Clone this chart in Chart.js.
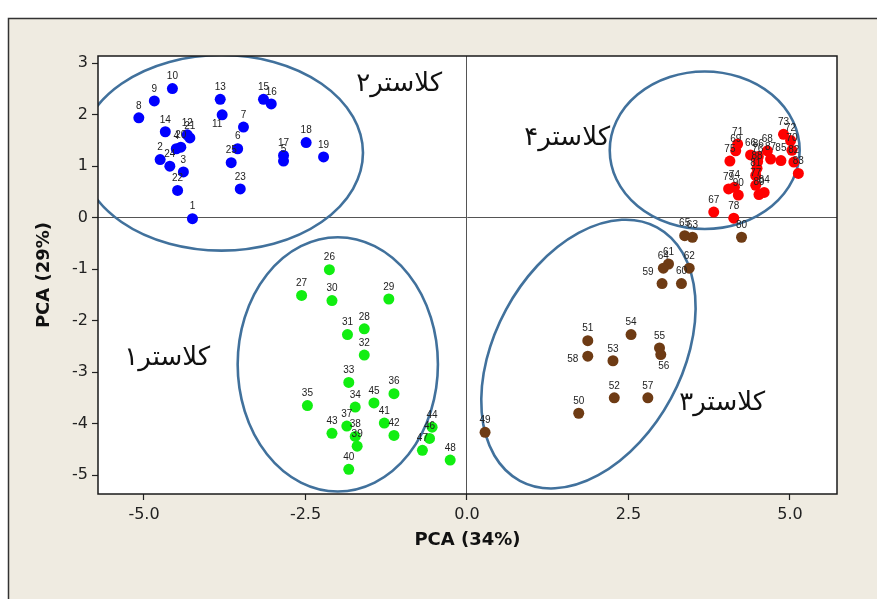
<!DOCTYPE html>
<html>
<head>
<meta charset="utf-8">
<script src="https://cdn.jsdelivr.net/npm/chart.js@4.4.1/dist/chart.umd.min.js"></script>
<style>
  html, body { margin: 0; padding: 0; background: #fff; }
  canvas { display: block; }
</style>
</head>
<body>
<canvas id="chart" width="877" height="599"></canvas>
<script>
// tick values
const xTicks = [-5, -2.5, 0, 2.5, 5];
const yTicks = [3, 2, 1, 0, -1, -2, -3, -4, -5];

// cluster 2 (blue)
const blueIds = [1, 2, 3, 4, 5, 6, 7, 8, 9, 10, 11, 12, 13, 14, 15, 16, 17, 18, 19, 20, 21, 22, 23, 24, 25];
const blueX = [-4.25, -4.75, -4.39, -4.50, -2.84, -3.55, -3.46, -5.08, -4.84, -4.56, -3.79, -4.33, -3.82, -4.67, -3.15, -3.03, -2.84, -2.49, -2.22, -4.43, -4.29, -4.48, -3.51, -4.60, -3.65];
const blueY = [-0.02, 1.13, 0.89, 1.34, 1.10, 1.34, 1.76, 1.94, 2.27, 2.51, 2.00, 1.61, 2.30, 1.67, 2.30, 2.21, 1.21, 1.46, 1.18, 1.37, 1.55, 0.53, 0.56, 1.00, 1.07];

// cluster 1 (green)
const greenIds = [26, 27, 28, 29, 30, 31, 32, 33, 34, 35, 36, 37, 38, 39, 40, 41, 42, 43, 44, 45, 46, 47, 48];
const greenX = [-2.13, -2.56, -1.59, -1.21, -2.09, -1.85, -1.59, -1.83, -1.73, -2.47, -1.13, -1.86, -1.73, -1.70, -1.83, -1.28, -1.13, -2.09, -0.54, -1.44, -0.58, -0.69, -0.26];
const greenY = [-1.01, -1.51, -2.16, -1.58, -1.61, -2.27, -2.67, -3.20, -3.68, -3.65, -3.42, -4.05, -4.25, -4.44, -4.89, -3.99, -4.23, -4.19, -4.07, -3.60, -4.29, -4.52, -4.71];

// cluster 3 (brown)
const brownIds = [49, 50, 51, 52, 53, 54, 55, 56, 57, 58, 59, 60, 61, 62, 63, 64, 65, 80];
const brownX = [0.28, 1.73, 1.87, 2.28, 2.26, 2.54, 2.98, 3.00, 2.80, 1.87, 3.02, 3.32, 3.12, 3.44, 3.49, 3.04, 3.37, 4.25];
const brownY = [-4.17, -3.80, -2.39, -3.50, -2.78, -2.27, -2.53, -2.66, -3.50, -2.69, -1.28, -1.28, -0.90, -0.98, -0.38, -0.98, -0.35, -0.38];

// cluster 4 (red)
const redIds = [66, 67, 68, 69, 70, 71, 72, 73, 74, 75, 76, 77, 78, 79, 81, 82, 83, 84, 85, 86, 87, 88, 89, 90];
const redX = [4.39, 3.82, 4.65, 4.16, 5.03, 4.19, 5.01, 4.90, 4.14, 4.07, 4.50, 4.47, 4.13, 4.05, 4.47, 5.06, 5.13, 4.60, 4.86, 4.51, 4.70, 4.49, 4.52, 4.20];
const redY = [1.22, 0.11, 1.30, 1.30, 1.31, 1.43, 1.50, 1.62, 0.59, 1.10, 1.09, 0.63, -0.01, 0.56, 0.82, 1.08, 0.86, 0.49, 1.11, 1.19, 1.14, 0.96, 0.45, 0.44];

// cluster names and where they sit (data units)
const clusterNames = ['کلاستر۱', 'کلاستر۲', 'کلاستر۳', 'کلاستر۴'];
const clusterTextX = [-4.64, -1.05, 3.95, 1.55];
const clusterTextY = [-2.73, 2.60, -3.60, 1.55];

// cluster ellipses: centre and radii in data units, tilt in degrees
const ellipseCx = [-2.00, -3.80, 1.88, 3.68];
const ellipseCy = [-2.85, 1.26, -2.65, 1.31];
const ellipseRx = [1.55, 2.19, 1.45, 1.47];
const ellipseRy = [2.47, 1.90, 2.80, 1.53];
const ellipseTilt = [0, 0, 28.4, 0];

// labels that are not placed straight above their point
const labelOffsets = { 11: [-5, 9], 56: [3, 12], 58: [-15, 3], 59: [-14, -11] };

function toPoints(xs, ys) {
  return xs.map((x, i) => ({ x: x, y: ys[i] }));
}

const panelPlugin = {
  id: 'panel',
  beforeDraw(chart) {
    const ctx = chart.ctx;
    const a = chart.chartArea;
    ctx.save();
    ctx.fillStyle = '#ffffff';
    ctx.fillRect(0, 0, chart.width, chart.height);
    ctx.fillStyle = '#efebe1';
    ctx.fillRect(8, 18, chart.width - 8, chart.height - 18);
    ctx.strokeStyle = '#333';
    ctx.lineWidth = 1.5;
    ctx.beginPath();
    ctx.moveTo(8.5, chart.height);
    ctx.lineTo(8.5, 18.5);
    ctx.lineTo(chart.width, 18.5);
    ctx.stroke();
    ctx.fillStyle = '#ffffff';
    ctx.fillRect(a.left, a.top, a.right - a.left, a.bottom - a.top);
    ctx.restore();
  },
  beforeDatasetsDraw(chart) {
    const ctx = chart.ctx;
    const xs = chart.scales.x, ys = chart.scales.y;
    const a = chart.chartArea;
    ctx.save();
    ctx.beginPath();
    ctx.rect(a.left, a.top, a.right - a.left, a.bottom - a.top);
    ctx.clip();
    // ellipses
    ctx.strokeStyle = '#41719c';
    ctx.lineWidth = 2.6;
    for (let i = 0; i < ellipseCx.length; i++) {
      const cx = xs.getPixelForValue(ellipseCx[i]);
      const cy = ys.getPixelForValue(ellipseCy[i]);
      const rx = xs.getPixelForValue(ellipseCx[i] + ellipseRx[i]) - cx;
      const ry = cy - ys.getPixelForValue(ellipseCy[i] + ellipseRy[i]);
      ctx.beginPath();
      ctx.ellipse(cx, cy, rx, ry, ellipseTilt[i] * Math.PI / 180, 0, Math.PI * 2);
      ctx.stroke();
    }
    // cluster names
    ctx.fillStyle = '#111';
    ctx.font = '26px "DejaVu Sans"';
    ctx.textAlign = 'center';
    ctx.textBaseline = 'middle';
    ctx.direction = 'rtl';
    clusterNames.forEach((name, i) => {
      ctx.fillText(name, xs.getPixelForValue(clusterTextX[i]), ys.getPixelForValue(clusterTextY[i]));
    });
    ctx.restore();
  },
  afterDatasetsDraw(chart) {
    const ctx = chart.ctx;
    ctx.save();
    ctx.fillStyle = '#222';
    ctx.font = '10px "Liberation Sans"';
    ctx.textAlign = 'center';
    ctx.textBaseline = 'middle';
    chart.data.datasets.forEach((ds, di) => {
      const meta = chart.getDatasetMeta(di);
      meta.data.forEach((el, i) => {
        const id = ds.ids[i];
        const off = labelOffsets[id] || [0, -12];
        ctx.fillText(String(id), el.x + off[0], el.y + off[1]);
      });
    });
    ctx.restore();
  },
  afterDraw(chart) {
    const ctx = chart.ctx;
    const a = chart.chartArea;
    ctx.save();
    ctx.strokeStyle = '#1a1a1a';
    ctx.lineWidth = 1.5;
    ctx.strokeRect(a.left, a.top, a.right - a.left, a.bottom - a.top);
    ctx.restore();
  }
};

const tickFont = { family: '"DejaVu Sans"', size: 16 };
const titleFont = { family: '"DejaVu Sans"', size: 18, weight: 'bold' };

function zeroLine(c) {
  return c.tick && c.tick.value === 0 ? '#555' : 'rgba(0,0,0,0)';
}

new Chart(document.getElementById('chart'), {
  type: 'scatter',
  data: {
    datasets: [
      { label: 'Cluster 2', ids: blueIds, data: toPoints(blueX, blueY), backgroundColor: '#0000ff' },
      { label: 'Cluster 1', ids: greenIds, data: toPoints(greenX, greenY), backgroundColor: '#11ee11' },
      { label: 'Cluster 3', ids: brownIds, data: toPoints(brownX, brownY), backgroundColor: '#6e3b14' },
      { label: 'Cluster 4', ids: redIds, data: toPoints(redX, redY), backgroundColor: '#ff0000' }
    ]
  },
  options: {
    responsive: false,
    animation: false,
    devicePixelRatio: 1,
    layout: { padding: { left: 0, top: 56, right: 40, bottom: 0 } },
    elements: { point: { radius: 5.5, borderWidth: 0, hoverRadius: 5.5 } },
    plugins: { legend: { display: false }, tooltip: { enabled: false } },
    scales: {
      x: {
        type: 'linear',
        min: -5.712,
        max: 5.728,
        afterBuildTicks: s => { s.ticks = xTicks.map(v => ({ value: v })); },
        afterFit: s => { s.height = 105; },
        ticks: { font: tickFont, color: '#222', padding: 5, maxRotation: 0, callback: v => Number(v).toFixed(1) },
        grid: { color: zeroLine, lineWidth: 1, tickColor: '#222', tickLength: 6, tickWidth: 1.2 },
        border: { display: false },
        title: { display: true, text: 'PCA (34%)', font: titleFont, color: '#111', padding: { top: 0, bottom: 48 } }
      },
      y: {
        type: 'linear',
        min: -5.369,
        max: 3.142,
        afterBuildTicks: s => { s.ticks = yTicks.map(v => ({ value: v })); },
        afterFit: s => { s.width = 98; },
        ticks: { font: tickFont, color: '#222', padding: 4, callback: v => String(v) },
        grid: { color: zeroLine, lineWidth: 1, tickColor: '#222', tickLength: 6, tickWidth: 1.2 },
        border: { display: false },
        title: { display: true, text: 'PCA (29%)', font: titleFont, color: '#111', padding: { top: 34, bottom: 0 } }
      }
    }
  },
  plugins: [panelPlugin]
});
</script>
</body>
</html>
